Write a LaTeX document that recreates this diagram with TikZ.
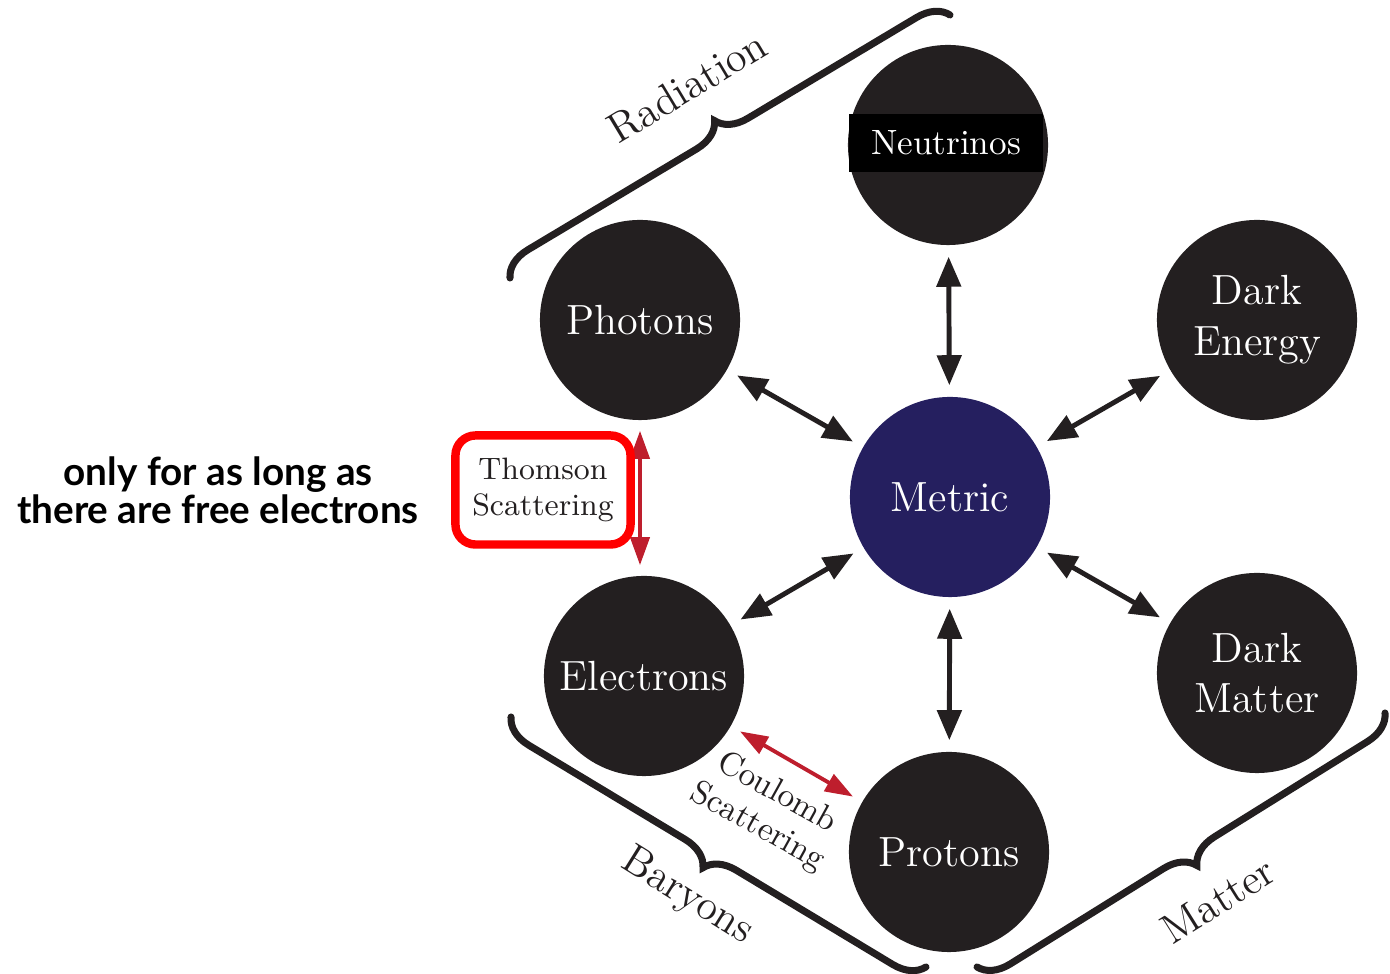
\documentclass[tikz,border=0pt]{standalone}
\usepackage{fontspec}
\newfontfamily\notefont{Lato}
\usetikzlibrary{arrows.meta,decorations.pathreplacing}
\definecolor{ink}{HTML}{231F20}
\definecolor{metricblue}{HTML}{251F5F}
\definecolor{scatterred}{HTML}{BE1E2D}

\begin{document}
\begin{tikzpicture}[x=0.01cm, y=-0.01cm,
	species/.style={circle, fill=ink, minimum size=2cm, inner sep=0pt, text=white, align=center, font=\fontsize{12}{14.4}\selectfont},
	coupling/.style={{Stealth[length=3mm,width=2.4mm,inset=0pt]}-{Stealth[length=3mm,width=2.4mm,inset=0pt]}, line width=1.4pt, draw=ink, shorten <=1.1mm, shorten >=1.1mm},
	scattering/.style={{Stealth[length=2.8mm,width=1.9mm,inset=0pt]}-{Stealth[length=2.8mm,width=1.9mm,inset=0pt]}, line width=1.1pt, draw=scatterred, shorten <=1mm, shorten >=1mm},
	grouping/.style={decorate, decoration={brace, amplitude=3mm}, line width=2pt, line cap=round, draw=ink},
	grouplabel/.style={font=\fontsize{12}{14}\selectfont, text=ink}]
	\useasboundingbox (0,0) rectangle (1390,974);
	\node[species] (neutrinos) at (948,145) {};
	\node[fill=black, text=white, minimum width=1.93cm, minimum height=0.57cm, inner sep=0pt, font=\fontsize{10}{12}\selectfont] (neutrinolabel) at (946,143) {Neutrinos};
	\node[species] (photons) at (640,320) {Photons};
	\node[species] (darkenergy) at (1257,320) {Dark\\Energy};
	\node[species, fill=metricblue] (metric) at (950,497) {Metric};
	\node[species] (electrons) at (644,676) {Electrons};
	\node[species] (darkmatter) at (1257,673) {Dark\\Matter};
	\node[species] (protons) at (949,852) {Protons};
	\draw[coupling] (neutrinos) -- (metric);
	\draw[coupling] (photons) -- (metric);
	\draw[coupling] (darkenergy) -- (metric);
	\draw[coupling] (electrons) -- (metric);
	\draw[coupling] (darkmatter) -- (metric);
	\draw[coupling] (protons) -- (metric);
	\draw[scattering] (photons.south) -- (photons.south |- electrons.north);
	\draw[scattering] (electrons) -- (protons);
	\node[draw=red, line width=2.4pt, rounded corners=2mm, minimum width=1.75cm, minimum height=1.09cm, inner sep=0pt, align=center, text=ink, font=\fontsize{8.8}{10.2}\selectfont] (thomson) at (543,490) {Thomson\\Scattering};
	\node[rotate=-29, align=center, text=ink, font=\fontsize{9.5}{11}\selectfont] (coulomb) at (767,810) {Coulomb\\Scattering};
	\node[align=center, font=\notefont\bfseries\fontsize{11}{10.8}\selectfont] (note) at (218,490) {only for as long as\\there are free electrons};
	\coordinate (radiationA) at (510,278);
	\coordinate (radiationB) at (950,15);
	\coordinate (baryonsA) at (926,967);
	\coordinate (baryonsB) at (511,717);
	\coordinate (matterA) at (1385,713);
	\coordinate (matterB) at (977,967);
	\draw[grouping] (radiationA) -- (radiationB);
	\draw[grouping] (baryonsA) -- (baryonsB);
	\draw[grouping] (matterA) -- (matterB);
	\node[grouplabel, rotate=31] (radiation) at (687,87) {Radiation};
	\node[grouplabel, rotate=-32] (baryons) at (687,897) {Baryons};
	\node[grouplabel, rotate=32] (matter) at (1218,900) {Matter};
\end{tikzpicture}
\end{document}
